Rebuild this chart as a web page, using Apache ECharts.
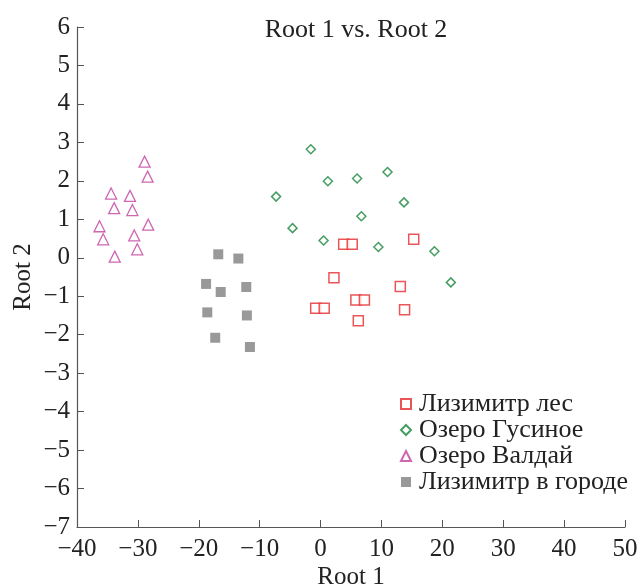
<!DOCTYPE html>
<html><head><meta charset="utf-8">
<script src="https://cdn.jsdelivr.net/npm/echarts@6/dist/echarts.min.js"></script>
<style>html,body{margin:0;padding:0;background:#fff}#c{width:640px;height:588px}</style>
</head><body><div id="c"></div>
<script>
const seriesNames = ['Лизимитр лес', 'Озеро Гусиное', 'Озеро Валдай', 'Лизимитр в городе'];
const lesPoints = [[3.8,0.35],[5.2,0.35],[15.3,0.48],[2.2,-0.52],[13.1,-0.75],[5.8,-1.10],[7.2,-1.10],[-0.8,-1.31],[0.6,-1.31],[13.8,-1.35],[6.2,-1.64]];
const gusinoePoints = [[-1.6,2.82],[1.2,1.99],[6.0,2.06],[11.0,2.23],[-7.3,1.59],[13.7,1.44],[6.7,1.08],[-4.6,0.77],[0.5,0.45],[9.5,0.28],[18.7,0.17],[21.4,-0.64]];
const valdaiPoints = [[-28.9,2.50],[-28.4,2.11],[-34.4,1.67],[-31.3,1.61],[-33.9,1.29],[-30.9,1.24],[-36.3,0.82],[-28.3,0.86],[-35.7,0.48],[-30.6,0.58],[-30.1,0.22],[-33.8,0.03]];
const gorodPoints = [[-16.8,0.09],[-13.5,-0.02],[-18.8,-0.68],[-16.4,-0.89],[-12.2,-0.76],[-18.6,-1.42],[-12.1,-1.50],[-17.3,-2.08],[-11.6,-2.32]];
const xTicks = {min:-40, max:50, interval:10};
const yTicks = {min:-7, max:6, interval:1};

const font = '"Liberation Serif","DejaVu Serif",serif';
const axisColor = '#555';
const chart = echarts.init(document.getElementById('c'), null, {renderer:'canvas'});
function minus(v){ return String(v).replace('-', '\u2212'); }
chart.setOption({
  animation:false,
  backgroundColor:'#fff',
  title:{text:'Root 1 vs. Root 2', left:351, top:12, textAlign:'center',
    textStyle:{fontFamily:font, fontSize:26, fontWeight:'normal', color:'#222'}},
  grid:{left:77, right:15, top:27, bottom:61, containLabel:false, outerBoundsMode:'none'},
  legend:{orient:'vertical', left:395, top:386, itemGap:0, itemWidth:10, itemHeight:10,
    textStyle:{fontFamily:font, fontSize:26, lineHeight:25, color:'#222', padding:[0,0,0,3]},
    data:seriesNames},
  xAxis:{type:'value', min:xTicks.min, max:xTicks.max, interval:xTicks.interval,
    name:'Root 1', nameLocation:'middle', nameGap:38, nameMoveOverlap:false,
    nameTextStyle:{fontFamily:font, fontSize:25, color:'#222'},
    axisLine:{onZero:false, lineStyle:{color:axisColor, width:1.2}},
    axisTick:{inside:true, length:7, lineStyle:{color:axisColor}},
    axisLabel:{fontFamily:font, fontSize:25, color:'#222', margin:10, formatter:minus},
    splitLine:{show:false}},
  yAxis:{type:'value', min:yTicks.min, max:yTicks.max, interval:yTicks.interval,
    name:'Root 2', nameLocation:'middle', nameGap:41, nameMoveOverlap:false,
    nameTextStyle:{fontFamily:font, fontSize:25, color:'#222'},
    axisLine:{show:true, onZero:false, lineStyle:{color:axisColor, width:1.2}},
    axisTick:{show:true, inside:true, length:7, lineStyle:{color:axisColor}},
    axisLabel:{fontFamily:font, fontSize:25, color:'#222', margin:7, formatter:minus},
    splitLine:{show:false}},
  series:[
    {name:seriesNames[0], type:'scatter', symbol:'rect', symbolSize:10, data:lesPoints,
     itemStyle:{color:'#fff', borderColor:'#e52a2e', borderWidth:1.5}},
    {name:seriesNames[1], type:'scatter', symbol:'diamond', symbolSize:9, data:gusinoePoints,
     itemStyle:{color:'#fff', borderColor:'#17843a', borderWidth:1.5}},
    {name:seriesNames[2], type:'scatter', symbol:'triangle', symbolSize:11, data:valdaiPoints,
     itemStyle:{color:'#fff', borderColor:'#c2409f', borderWidth:1.3}},
    {name:seriesNames[3], type:'scatter', symbol:'rect', symbolSize:10, data:gorodPoints,
     itemStyle:{color:'#808080'}}
  ]
});
</script></body></html>
